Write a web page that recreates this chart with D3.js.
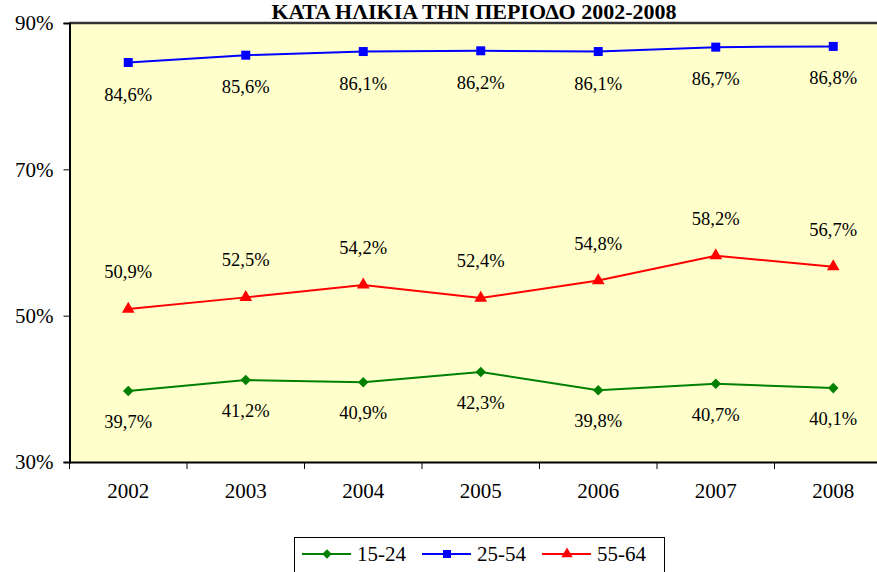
<!DOCTYPE html>
<html><head><meta charset="utf-8">
<script src="https://cdn.jsdelivr.net/npm/d3@7"></script>
<style>body{margin:0;background:#fff}svg{display:block}
svg text{font-family:"Liberation Serif","Times New Roman","DejaVu Serif",serif !important;}</style>
</head><body><svg id="c" width="877" height="572"></svg>
<script>
const title = "ΚΑΤΑ ΗΛΙΚΙΑ ΤΗΝ ΠΕΡΙΟΔΟ 2002-2008";
const years = ["2002","2003","2004","2005","2006","2007","2008"];
const s1524 = [39.7,41.2,40.9,42.3,39.8,40.7,40.1];
const s2554 = [84.6,85.6,86.1,86.2,86.1,86.7,86.8];
const s5564 = [50.9,52.5,54.2,52.4,54.8,58.2,56.7];
const yTicks = [30,50,70,90];
const seriesNames = ["15-24","25-54","55-64"];

const series = [
  {name: seriesNames[0], values: s1524, color: "#008000", sym: d3.symbolSquare, rot: 45, size: 56, dy: 31},
  {name: seriesNames[1], values: s2554, color: "#0000FF", sym: d3.symbolSquare, rot: 0, size: 81, dy: 32},
  {name: seriesNames[2], values: s5564, color: "#FF0000", sym: d3.symbolTriangle, rot: 0, size: 70, dy: -37}
];

const svg = d3.select("#c");
const font = "Liberation Serif";
const L = 69.5, R = 892, T = 23, B = 462;
const x = d3.scaleBand().domain(years).range([L, R]);
const y = d3.scaleLinear().domain([30, 90]).range([B, T]);
const fmt = v => v.toFixed(1).replace(".", ",") + "%";

svg.append("text").attr("x", 474).attr("y", 19).attr("text-anchor", "middle")
  .attr("font-family", font).attr("font-weight", "bold").attr("font-size", 22)
  .attr("fill", "#000").text(title);

svg.append("rect").attr("x", L).attr("y", T).attr("width", R - L).attr("height", B - T)
  .attr("fill", "#FFFFCC");
svg.append("line").attr("x1", L).attr("x2", 877).attr("y1", T).attr("y2", T)
  .attr("stroke", "#333").attr("stroke-width", 2.5);

const yAxis = svg.append("g").attr("transform", `translate(${L},0)`)
  .call(d3.axisLeft(y).tickValues(yTicks).tickSize(6).tickFormat(d => d + "%"));
yAxis.select(".domain").attr("stroke", "#000").attr("stroke-width", 2);
yAxis.selectAll(".tick line").attr("stroke", "#000");
yAxis.selectAll(".tick text").attr("font-family", font).attr("font-size", 21)
  .attr("fill", "#000").attr("x", -16);

const xAxis = svg.append("g").attr("transform", `translate(0,${B})`)
  .call(d3.axisBottom(x).tickSize(0).tickPadding(21));
xAxis.select(".domain").attr("stroke", "#000").attr("stroke-width", 2);
xAxis.selectAll(".tick text").attr("font-family", font).attr("font-size", 21).attr("fill", "#000");
svg.append("g").selectAll("line").data(years).join("line")
  .attr("x1", d => x(d)).attr("x2", d => x(d)).attr("y1", B).attr("y2", B + 7)
  .attr("stroke", "#000");

const cx = d => x(d) + x.bandwidth() / 2;
const line = d3.line().x((d, i) => cx(years[i])).y(d => y(d));

series.forEach(s => {
  const g = svg.append("g");
  g.append("path").datum(s.values).attr("d", line).attr("fill", "none")
    .attr("stroke", s.color).attr("stroke-width", 2);
  g.selectAll("path.m").data(s.values).join("path").attr("class", "m")
    .attr("d", d3.symbol().type(s.sym).size(s.size))
    .attr("transform", (d, i) => `translate(${cx(years[i])},${y(d)}) rotate(${s.rot})`)
    .attr("fill", s.color);
  g.selectAll("text").data(s.values).join("text")
    .attr("x", (d, i) => cx(years[i])).attr("y", d => y(d) + s.dy + 6)
    .attr("text-anchor", "middle").attr("font-family", font).attr("font-size", 18.5)
    .attr("fill", "#000").text(fmt);
});

// legend
const lg = svg.append("g");
lg.append("rect").attr("x", 294.5).attr("y", 537.5).attr("width", 370).attr("height", 40)
  .attr("fill", "#fff").attr("stroke", "#000");
const lx = [302, 422, 542];
series.forEach((s, i) => {
  const g = lg.append("g").attr("transform", `translate(${lx[i]},554)`);
  g.append("line").attr("x1", 0).attr("x2", 49).attr("stroke", s.color).attr("stroke-width", 2);
  g.append("path").attr("d", d3.symbol().type(s.sym).size(s.size * 0.8))
    .attr("transform", `translate(25,0) rotate(${s.rot})`).attr("fill", s.color);
  g.append("text").attr("x", 55).attr("y", 7).attr("font-family", font).attr("font-size", 21)
    .attr("fill", "#000").text(s.name);
});
</script></body></html>
